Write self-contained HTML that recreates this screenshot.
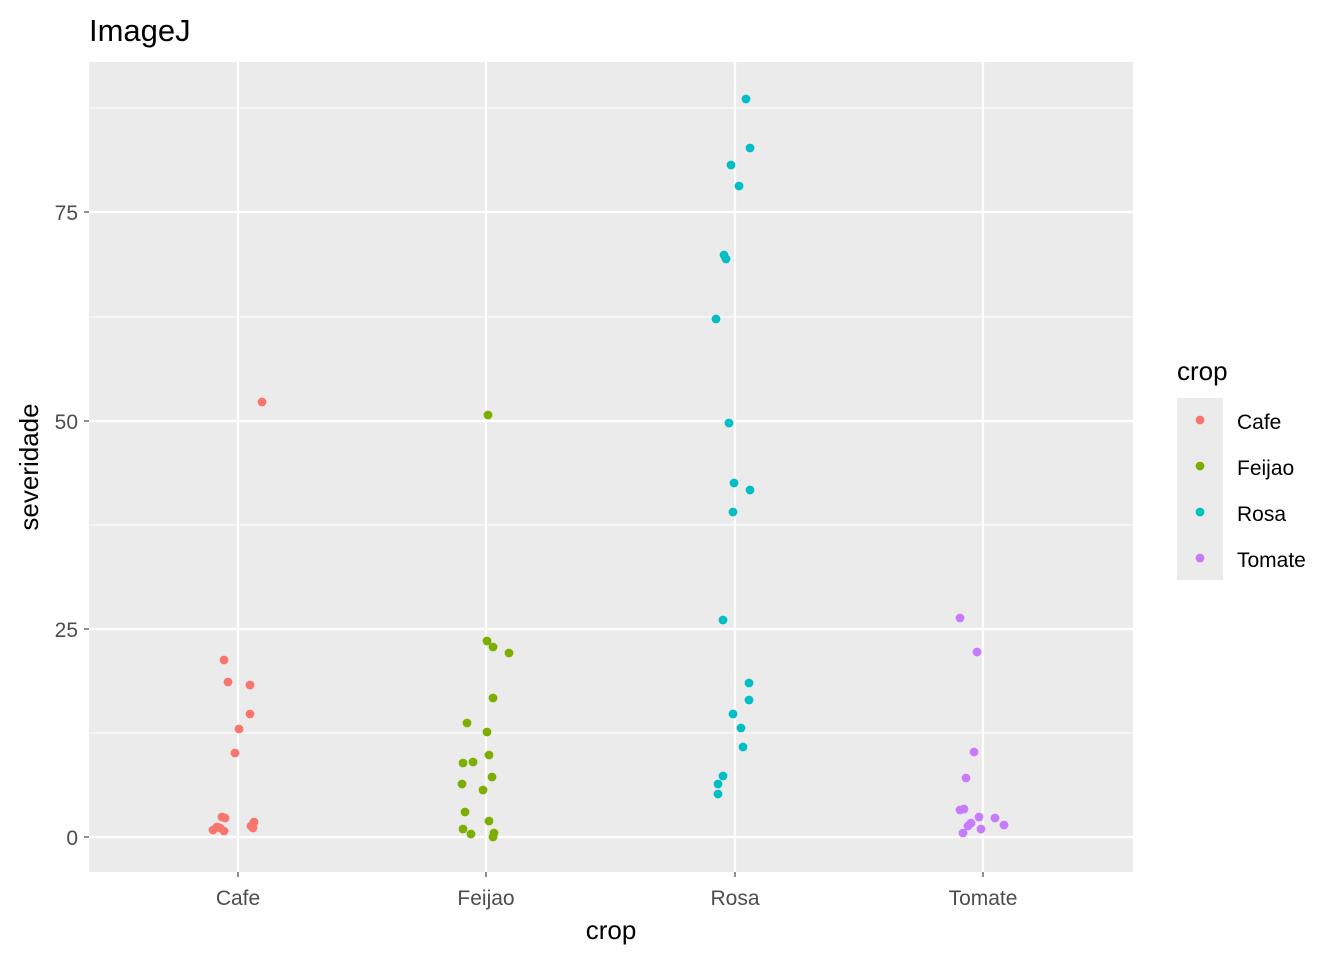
<!DOCTYPE html>
<html><head><style>body{margin:0;background:#fff}svg{display:block}circle{r:4.4px}</style></head><body>
<svg width="1344" height="960" xmlns="http://www.w3.org/2000/svg" font-family="Liberation Sans, sans-serif">
<rect x="0" y="0" width="1344" height="960" fill="#fff"/>
<rect x="89" y="62" width="1044" height="810" fill="#EBEBEB"/>
<g stroke="#fff" stroke-width="1.1">
<line x1="89" x2="1133" y1="733" y2="733"/><line x1="89" x2="1133" y1="525" y2="525"/>
<line x1="89" x2="1133" y1="317" y2="317"/><line x1="89" x2="1133" y1="108" y2="108"/>
</g>
<g stroke="#fff" stroke-width="2.2">
<line x1="89" x2="1133" y1="837" y2="837"/><line x1="89" x2="1133" y1="629" y2="629"/>
<line x1="89" x2="1133" y1="421" y2="421"/><line x1="89" x2="1133" y1="212" y2="212"/>
<line x1="238" x2="238" y1="62" y2="872"/><line x1="486" x2="486" y1="62" y2="872"/>
<line x1="735" x2="735" y1="62" y2="872"/><line x1="983" x2="983" y1="62" y2="872"/>
</g>
<g fill="#F8766D">
<circle cx="262" cy="402" r="4.4"/><circle cx="224" cy="660" r="4.4"/><circle cx="228" cy="682" r="4.4"/><circle cx="250" cy="685" r="4.4"/><circle cx="250" cy="714" r="4.4"/><circle cx="239" cy="729" r="4.4"/><circle cx="235" cy="753" r="4.4"/><circle cx="222" cy="817" r="4.4"/><circle cx="225" cy="818" r="4.4"/><circle cx="217" cy="827" r="4.4"/><circle cx="213" cy="830" r="4.4"/><circle cx="220" cy="828" r="4.4"/><circle cx="224" cy="831" r="4.4"/><circle cx="254" cy="822" r="4.4"/><circle cx="251" cy="826" r="4.4"/><circle cx="253" cy="828" r="4.4"/>
</g>
<g fill="#7CAE00">
<circle cx="488" cy="415" r="4.4"/><circle cx="487" cy="641" r="4.4"/><circle cx="493" cy="647" r="4.4"/><circle cx="509" cy="653" r="4.4"/><circle cx="493" cy="698" r="4.4"/><circle cx="467" cy="723" r="4.4"/><circle cx="487" cy="732" r="4.4"/><circle cx="489" cy="755" r="4.4"/><circle cx="463" cy="763" r="4.4"/><circle cx="473" cy="762" r="4.4"/><circle cx="462" cy="784" r="4.4"/><circle cx="492" cy="777" r="4.4"/><circle cx="483" cy="790" r="4.4"/><circle cx="465" cy="812" r="4.4"/><circle cx="489" cy="821" r="4.4"/><circle cx="463" cy="829" r="4.4"/><circle cx="471" cy="834" r="4.4"/><circle cx="494" cy="833" r="4.4"/><circle cx="493" cy="837" r="4.4"/>
</g>
<g fill="#00BFC4">
<circle cx="746" cy="99" r="4.4"/><circle cx="750" cy="148" r="4.4"/><circle cx="731" cy="165" r="4.4"/><circle cx="739" cy="186" r="4.4"/><circle cx="724" cy="255" r="4.4"/><circle cx="726" cy="259" r="4.4"/><circle cx="716" cy="319" r="4.4"/><circle cx="729" cy="423" r="4.4"/><circle cx="734" cy="483" r="4.4"/><circle cx="750" cy="490" r="4.4"/><circle cx="733" cy="512" r="4.4"/><circle cx="723" cy="620" r="4.4"/><circle cx="749" cy="683" r="4.4"/><circle cx="749" cy="700" r="4.4"/><circle cx="733" cy="714" r="4.4"/><circle cx="741" cy="728" r="4.4"/><circle cx="743" cy="747" r="4.4"/><circle cx="723" cy="776" r="4.4"/><circle cx="718" cy="784" r="4.4"/><circle cx="718" cy="794" r="4.4"/>
</g>
<g fill="#C77CFF">
<circle cx="960" cy="618" r="4.4"/><circle cx="977" cy="652" r="4.4"/><circle cx="974" cy="752" r="4.4"/><circle cx="966" cy="778" r="4.4"/><circle cx="960" cy="810" r="4.4"/><circle cx="964" cy="809" r="4.4"/><circle cx="979" cy="817" r="4.4"/><circle cx="995" cy="818" r="4.4"/><circle cx="971" cy="823" r="4.4"/><circle cx="968" cy="826" r="4.4"/><circle cx="981" cy="829" r="4.4"/><circle cx="1004" cy="825" r="4.4"/><circle cx="963" cy="833" r="4.4"/>
</g>
<g stroke="#333" stroke-width="1.1">
<line x1="84" x2="89" y1="837" y2="837"/><line x1="84" x2="89" y1="629" y2="629"/><line x1="84" x2="89" y1="421" y2="421"/><line x1="84" x2="89" y1="212" y2="212"/>
<line x1="238" x2="238" y1="872" y2="877"/><line x1="486" x2="486" y1="872" y2="877"/><line x1="735" x2="735" y1="872" y2="877"/><line x1="983" x2="983" y1="872" y2="877"/>
</g>
<g fill="#4D4D4D" font-size="21" text-anchor="end">
<text x="78" y="845">0</text><text x="78" y="637">25</text><text x="78" y="429">50</text><text x="78" y="220">75</text>
</g>
<g fill="#4D4D4D" font-size="21" text-anchor="middle">
<text x="238" y="905">Cafe</text><text x="486" y="905">Feijao</text><text x="735" y="905">Rosa</text><text x="983" y="905">Tomate</text>
</g>
<text x="611" y="939" font-size="26" text-anchor="middle">crop</text>
<text transform="translate(38,467) rotate(-90)" font-size="26" text-anchor="middle">severidade</text>
<text x="89" y="41" font-size="31">ImageJ</text>
<text x="1177" y="380" font-size="26">crop</text>
<rect x="1177" y="398" width="46" height="182" fill="#EBEBEB"/>
<circle cx="1200" cy="420" r="4.4" fill="#F8766D"/><circle cx="1200" cy="466" r="4.4" fill="#7CAE00"/>
<circle cx="1200" cy="512" r="4.4" fill="#00BFC4"/><circle cx="1200" cy="558" r="4.4" fill="#C77CFF"/>
<g font-size="21" fill="#000">
<text x="1237" y="429">Cafe</text><text x="1237" y="475">Feijao</text><text x="1237" y="521">Rosa</text><text x="1237" y="567">Tomate</text>
</g>
</svg>
</body></html>
